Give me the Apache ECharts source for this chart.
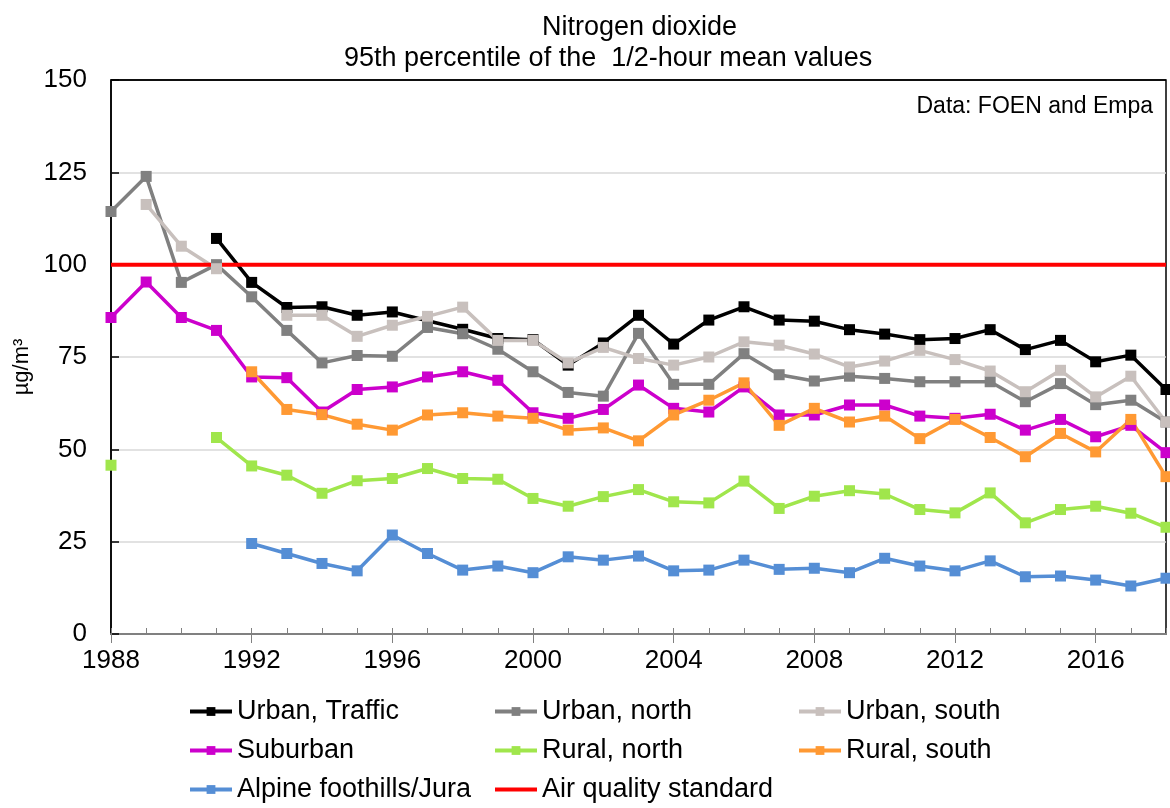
<!DOCTYPE html>
<html>
<head>
<meta charset="utf-8">
<script src="https://cdn.jsdelivr.net/npm/echarts@6/dist/echarts.min.js"></script>
<style>
  html, body { margin: 0; padding: 0; background: #fff; }
  #chart { width: 1170px; height: 808px; }
</style>
</head>
<body>
<div id="chart"></div>
<script>
// years 1988 .. 2018
const years = [1988, 1989, 1990, 1991, 1992, 1993, 1994, 1995, 1996, 1997, 1998, 1999, 2000, 2001, 2002, 2003,
  2004, 2005, 2006, 2007, 2008, 2009, 2010, 2011, 2012, 2013, 2014, 2015, 2016, 2017, 2018];

const urbanTraffic = [null, null, null, 107.1, 95.2, 88.4, 88.6, 86.3, 87.2, 84.8, 82.5, 80.0, 79.7, 72.8, 78.8, 86.3,
  78.5, 85.0, 88.6, 85.0, 84.7, 82.4, 81.2, 79.7, 80.0, 82.4, 77.0, 79.5, 73.7, 75.5, 66.2];
const urbanNorth = [114.4, 123.9, 95.2, 100.0, 91.3, 82.2, 73.4, 75.4, 75.2, 83.0, 81.3, 77.1, 71.0, 65.4, 64.4, 81.4,
  67.6, 67.6, 75.9, 70.2, 68.5, 69.8, 69.2, 68.3, 68.3, 68.3, 62.9, 67.8, 62.1, 63.3, 57.4];
const urbanSouth = [null, 116.3, 105.0, 98.9, null, 86.3, 86.3, 80.6, 83.6, 86.0, 88.5, 79.5, 79.5, 73.4, 77.6, 74.6,
  72.8, 75.0, 79.1, 78.2, 75.8, 72.3, 73.9, 76.8, 74.3, 71.2, 65.6, 71.4, 64.2, 69.8, 57.4];
const suburban = [85.7, 95.3, 85.7, 82.2, 69.6, 69.4, 60.1, 66.2, 66.9, 69.6, 71.0, 68.7, 59.9, 58.4, 60.8, 67.4,
  61.1, 60.1, 66.9, 59.3, 59.3, 62.0, 62.0, 59.0, 58.4, 59.5, 55.2, 58.1, 53.4, 56.5, 49.1];
const ruralNorth = [45.7, null, null, 53.2, 45.5, 43.0, 38.1, 41.5, 42.1, 44.8, 42.1, 41.9, 36.7, 34.6, 37.2, 39.1,
  35.8, 35.5, 41.4, 34.0, 37.3, 38.8, 37.9, 33.7, 32.8, 38.2, 30.1, 33.7, 34.6, 32.7, 28.9];
const ruralSouth = [null, null, null, null, 71.0, 60.8, 59.4, 56.8, 55.2, 59.3, 59.9, 59.0, 58.4, 55.2, 55.8, 52.3,
  59.3, 63.3, 68.0, 56.5, 61.1, 57.4, 59.0, 52.9, 58.1, 53.2, 48.0, 54.3, 49.3, 58.1, 42.6];
const alpine = [null, null, null, null, 24.5, 21.8, 19.1, 17.1, 26.8, 21.8, 17.3, 18.4, 16.6, 20.9, 20.0, 21.1,
  17.1, 17.3, 20.0, 17.5, 17.8, 16.6, 20.5, 18.4, 17.1, 19.8, 15.5, 15.7, 14.6, 13.0, 15.1];
const airStandard = 100;

const yTicks = [0, 25, 50, 75, 100, 125, 150];

const FONT = "'Liberation Sans', Arial, sans-serif";

// pair years with values, nulls break the line
const toPairs = (arr) => years.map((y, i) => [y, arr[i] === null ? '-' : arr[i]]);

const lineSeries = (name, arr, color) => ({
  name,
  type: 'line',
  data: toPairs(arr),
  symbol: 'rect',
  symbolSize: 11,
  showSymbol: true,
  connectNulls: false,
  lineStyle: { color, width: 3.5 },
  itemStyle: { color },
  emphasis: { disabled: true },
  animation: false
});

const legendText = { fontFamily: FONT, fontSize: 27, color: '#000' };
const legendBase = {
  orient: 'vertical',
  top: 693,
  itemWidth: 42,
  itemHeight: 11,
  itemGap: 12,
  textStyle: legendText,
  lineStyle: { width: 4 },
  selectedMode: false
};

const chart = echarts.init(document.getElementById('chart'));
chart.setOption({
  animation: false,
  backgroundColor: '#fff',
  title: [
    { text: 'Nitrogen dioxide', left: 537, top: 9,
      textStyle: { fontFamily: FONT, fontSize: 27, fontWeight: 'normal', color: '#000' } },
    { text: '95th percentile of the  1/2-hour mean values', left: 339, top: 40,
      textStyle: { fontFamily: FONT, fontSize: 27, fontWeight: 'normal', color: '#000' } },
    { text: 'Data: FOEN and Empa', right: 12, top: 90,
      textStyle: { fontFamily: FONT, fontSize: 23, fontWeight: 'normal', color: '#000' } }
  ],
  legend: [
    Object.assign({ left: 183, data: ['Urban, Traffic', 'Suburban', 'Alpine foothills/Jura'] }, legendBase),
    Object.assign({ left: 488, data: ['Urban, north', 'Rural, north',
      { name: 'Air quality standard', itemStyle: { opacity: 0 } }] }, legendBase),
    Object.assign({ left: 792, data: ['Urban, south', 'Rural, south'] }, legendBase)
  ],
  grid: {
    left: 111, right: 4, top: 80, bottom: 174,
    show: true, borderColor: '#000', borderWidth: 1.5, backgroundColor: 'transparent'
  },
  xAxis: [
    {
      type: 'value', min: 1988, max: 2018, interval: 1,
      axisLine: { show: true, lineStyle: { color: '#808080', width: 2 } },
      axisTick: { show: true, inside: true, length: 6, lineStyle: { color: '#808080', width: 1 } },
      axisLabel: { show: false },
      splitLine: { show: false }
    },
    {
      type: 'value', min: 1988, max: 2018, interval: 4, position: 'bottom',
      axisLine: { show: false },
      axisTick: { show: true, inside: false, length: 9, lineStyle: { color: '#808080', width: 1 } },
      axisLabel: { fontFamily: FONT, fontSize: 26, color: '#000', margin: 14, showMaxLabel: false,
        formatter: (v) => String(v) },
      splitLine: { show: false }
    }
  ],
  yAxis: {
    type: 'value', min: yTicks[0], max: yTicks[yTicks.length - 1], interval: 25,
    name: '\u00b5g/m\u00b3', nameLocation: 'middle', nameGap: 78, nameRotate: 90,
    nameTextStyle: { fontFamily: FONT, fontSize: 22, color: '#000', padding: [0, 20, 0, 0] },
    axisLine: { show: true, lineStyle: { color: '#000', width: 1.5 } },
    axisTick: { show: true, inside: true, length: 8, lineStyle: { color: '#000', width: 1.5 } },
    axisLabel: { fontFamily: FONT, fontSize: 26, color: '#000', margin: 24 },
    splitLine: { show: true, lineStyle: { color: ['#808080', '#d9d9d9', '#d9d9d9', '#d9d9d9', '#d9d9d9', '#d9d9d9', '#000'], width: 1.5 } }
  },
  series: [
    lineSeries('Urban, Traffic', urbanTraffic, '#000000'),
    lineSeries('Urban, north', urbanNorth, '#808080'),
    lineSeries('Urban, south', urbanSouth, '#c8c0bd'),
    lineSeries('Suburban', suburban, '#cc00cc'),
    lineSeries('Rural, north', ruralNorth, '#a0e64c'),
    lineSeries('Rural, south', ruralSouth, '#ff9933'),
    lineSeries('Alpine foothills/Jura', alpine, '#558ed5'),
    {
      name: 'Air quality standard',
      type: 'line',
      data: [[years[0], airStandard], [years[years.length - 1], airStandard]],
      showSymbol: false,
      symbol: 'none',
      lineStyle: { color: '#ff0000', width: 4 },
      itemStyle: { color: '#ff0000' },
      emphasis: { disabled: true },
      animation: false
    }
  ]
});
</script>
</body>
</html>
